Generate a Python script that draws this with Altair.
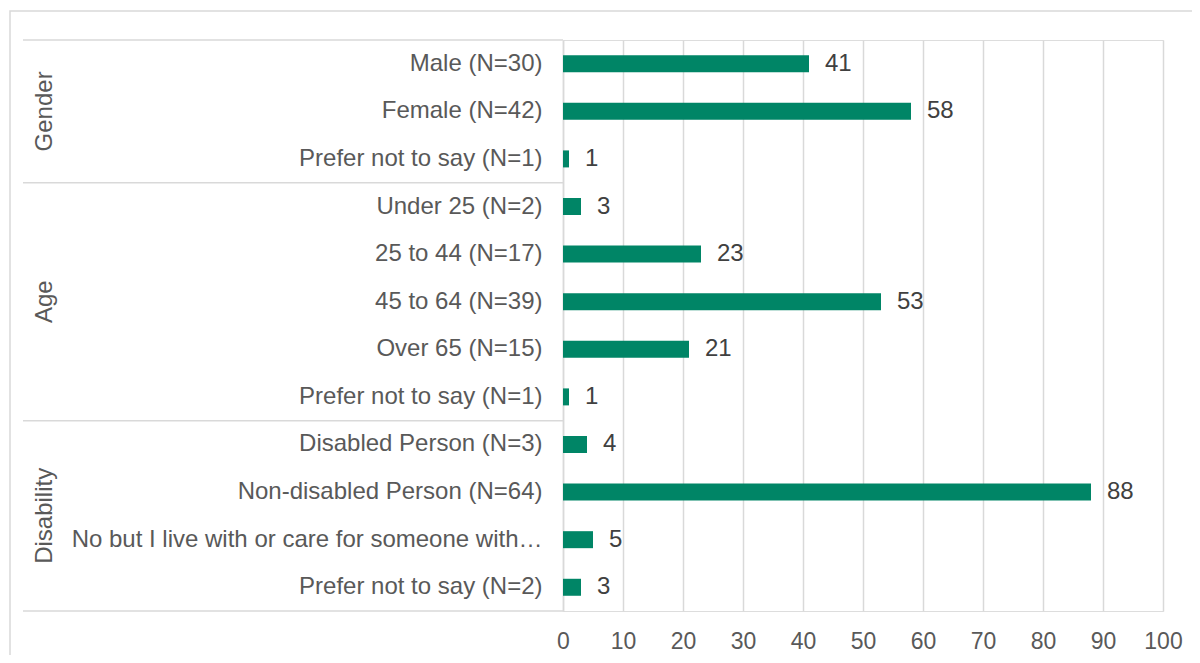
import altair as alt
import pandas as pd

groups = ["Gender", "Gender", "Gender",
          "Age", "Age", "Age", "Age", "Age",
          "Disability", "Disability", "Disability", "Disability"]
categories = [
    "Male (N=30)", "Female (N=42)", "Prefer not to say (N=1)",
    "Under 25 (N=2)", "25 to 44 (N=17)", "45 to 64 (N=39)", "Over 65 (N=15)", "Prefer not to say (N=1)",
    "Disabled Person (N=3)", "Non-disabled Person (N=64)",
    "No but I live with or care for someone with a disability (N=4)", "Prefer not to say (N=2)",
]
values = [41, 58, 1, 3, 23, 53, 21, 1, 4, 88, 5, 3]

group_names = ["Gender", "Age", "Disability"]
group_sizes = [3, 5, 4]
x_ticks = [0, 10, 20, 30, 40, 50, 60, 70, 80, 90, 100]

keys = [f"{i:02d}|{c}" for i, c in enumerate(categories)]
df = pd.DataFrame({"key": keys, "group": groups, "category": categories, "value": values})

bounds = [0]
for s in group_sizes:
    bounds.append(bounds[-1] + s)
centers = [(bounds[i] + bounds[i + 1]) / 2 for i in range(len(group_sizes))]
sep_df = pd.DataFrame({"pos": bounds})
grp_df = pd.DataFrame({"group": group_names, "center": centers})

W, H = 600, 571
GRAY = "#d9d9d9"
TXT = "#595959"
BAR = "#008566"
FONT = "Liberation Sans"

yscale = alt.Scale(domain=keys, paddingInner=0.643, paddingOuter=0.32)
qscale = alt.Scale(domain=[0, len(categories)], reverse=True, nice=False, zero=False)
xscale = alt.Scale(domain=[0, 100], nice=False)

yaxis = alt.Axis(labelExpr="split(datum.value, '|')[1]", grid=False,
                 domain=True, domainColor=GRAY, domainWidth=1.5,
                 ticks=False, labelFontSize=24, labelColor=TXT,
                 labelFont=FONT, labelPadding=21, labelLimit=474)
xaxis = alt.Axis(values=x_ticks, grid=True, gridColor=GRAY, gridWidth=1.5,
                 domain=False, ticks=False, labelFontSize=23, labelFlush=False,
                 labelColor=TXT, labelFont=FONT, labelPadding=19)

border = alt.Chart(pd.DataFrame({"a": [0]})).mark_rect(
    filled=False, stroke=GRAY, strokeWidth=1.5
).encode(
    x=alt.value(-553), x2=alt.value(700), y=alt.value(-29), y2=alt.value(700)
)

bars = alt.Chart(df).mark_bar(color=BAR).encode(
    y=alt.Y("key:N", sort=keys, scale=yscale, title=None, axis=yaxis),
    x=alt.X("value:Q", scale=xscale, title=None, axis=xaxis),
)

labels = alt.Chart(df).mark_text(
    align="left", baseline="middle", dx=16, fontSize=24, color="#404040", font=FONT
).encode(
    y=alt.Y("key:N", sort=keys, scale=yscale, title=None, axis=yaxis),
    x=alt.X("value:Q", scale=xscale, title=None, axis=xaxis),
    text=alt.Text("value:Q"),
)

seps = alt.Chart(sep_df).mark_rule(color=GRAY, strokeWidth=1.5).encode(
    y=alt.Y("pos:Q", scale=qscale, axis=None),
    x=alt.value(-540), x2=alt.value(0),
)

grp_text = alt.Chart(grp_df).mark_text(
    angle=270, align="center", baseline="alphabetic", fontSize=24, color=TXT, font=FONT
).encode(
    y=alt.Y("center:Q", scale=qscale, axis=None),
    x=alt.value(-511),
    text="group:N",
)

main = alt.layer(bars, labels)
overlay = alt.layer(seps, grp_text)
chart = alt.layer(border, main, overlay).resolve_scale(y="independent").properties(
    width=W, height=H,
    autosize=alt.AutoSizeParams(type="none"),
    padding={"left": 555, "top": 32, "right": 29, "bottom": 44},
).configure_view(strokeWidth=0).configure(background="white")

chart.save("out.html", embed_options={"renderer": "svg", "actions": False})
